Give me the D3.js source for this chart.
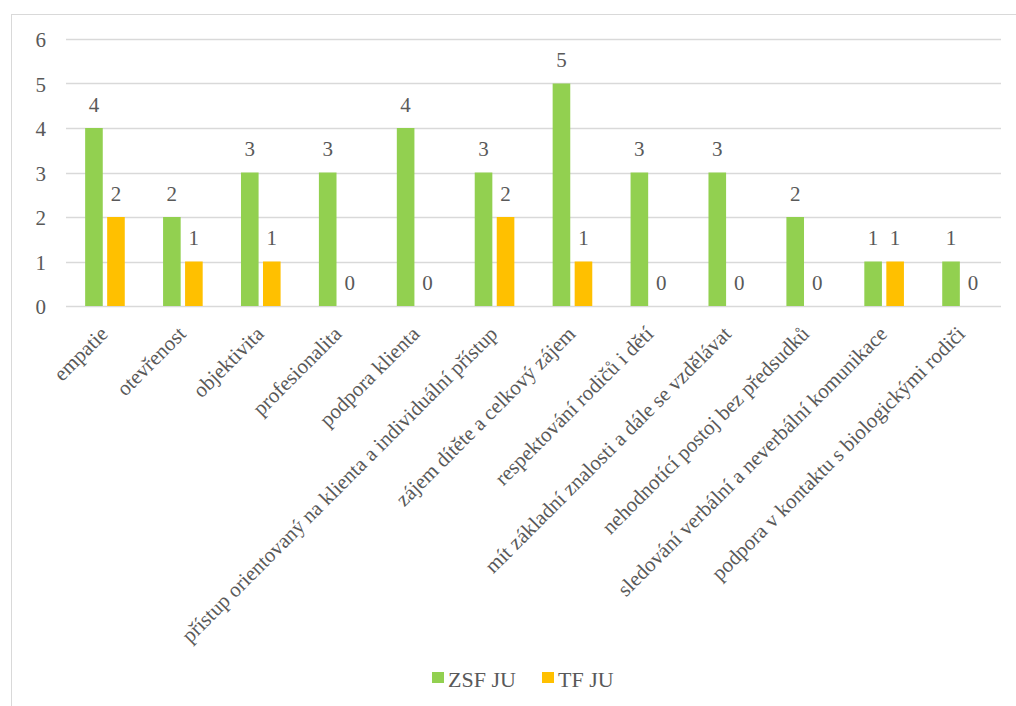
<!DOCTYPE html>
<html><head><meta charset="utf-8">
<script src="https://cdn.jsdelivr.net/npm/d3@7"></script>
<style>
html,body{margin:0;padding:0;background:#fff;}
svg{display:block;}
text{font-family:"Liberation Serif","Times New Roman",serif;fill:#595959;}
</style></head>
<body>
<svg id="chart" width="1016" height="706"></svg>
<script>
const categories = ["empatie","otevřenost","objektivita","profesionalita","podpora klienta","přístup orientovaný na klienta a individuální přístup","zájem dítěte a celkový zájem","respektování rodičů i dětí","mít základní znalosti a dále se  vzdělávat","nehodnotící postoj bez předsudků","sledování verbální a neverbální komunikace","podpora v kontaktu s biologickými rodiči"];
const seriesNames = ["ZSF JU","TF JU"];
const zsfValues = [4,2,3,3,4,3,5,3,3,2,1,1];
const tfValues = [2,1,1,0,0,2,1,0,0,0,1,0];
const yTicks = [0,1,2,3,4,5,6];
const colors = ["#92D050","#FFC000"];

const FONT = '"Liberation Serif","Times New Roman",serif';
const svg = d3.select("#chart");
const mLeft = 66, mRight = 1001, mTop = 39, mBottom = 306;

svg.append("rect").attr("x",11.5).attr("y",14.5).attr("width",1010).attr("height",700)
  .attr("fill","none").attr("stroke","#D9D9D9").attr("stroke-width",1);

const x = d3.scaleBand().domain(categories).range([mLeft,mRight]).paddingInner(0).paddingOuter(0);
const y = d3.scaleLinear().domain([0,6]).range([mBottom,mTop]);
const inner = d3.scaleBand().domain(seriesNames).range([0,x.bandwidth()]).paddingInner(0.2).paddingOuter(0.87);

// gridlines
svg.append("g").selectAll("line").data(yTicks).join("line")
  .attr("x1",mLeft).attr("x2",mRight)
  .attr("y1",d=>Math.round(y(d))+0.5).attr("y2",d=>Math.round(y(d))+0.5)
  .attr("stroke","#D9D9D9").attr("stroke-width",1.5);

// y axis labels
const yAxis = d3.axisLeft(y).tickValues(yTicks).tickFormat(d3.format("d")).tickSize(0).tickPadding(0);
const ya = svg.append("g").attr("transform",`translate(46,1)`).call(yAxis);
ya.attr("font-family",FONT).attr("font-size",21);
ya.select(".domain").remove();
ya.selectAll("text").attr("fill","#595959").attr("font-family",FONT).style("font-size","21px");

const data = categories.map((c,i)=>({c, vals:[zsfValues[i],tfValues[i]]}));
const groups = svg.append("g").selectAll("g").data(data).join("g")
  .attr("transform",d=>`translate(${x(d.c)},0)`);
groups.selectAll("rect").data(d=>d.vals.map((v,j)=>({v,s:seriesNames[j],j}))).join("rect")
  .attr("x",d=>inner(d.s)).attr("width",inner.bandwidth())
  .attr("y",d=>y(d.v)).attr("height",d=>y(0)-y(d.v))
  .attr("fill",d=>colors[d.j]);
groups.selectAll("text").data(d=>d.vals.map((v,j)=>({v,s:seriesNames[j],j}))).join("text")
  .attr("x",d=>inner(d.s)+inner.bandwidth()/2).attr("y",d=>y(d.v)-16.5)
  .attr("text-anchor","middle").attr("font-family",FONT).style("font-size","21px").text(d=>d.v);

// x labels
svg.append("g").selectAll("text").data(categories).join("text")
  .attr("transform",d=>`translate(${x(d)+x.bandwidth()/2-1},330) rotate(-45)`)
  .attr("text-anchor","end").attr("dy","0.35em").attr("font-family",FONT).style("font-size","21px")
  .text(d=>d);

// legend
const legX = [432,542];
const lg = svg.append("g").selectAll("g").data(seriesNames).join("g")
  .attr("transform",(d,i)=>`translate(${legX[i]},0)`);
lg.append("rect").attr("x",0).attr("y",672).attr("width",12).attr("height",11).attr("fill",(d,i)=>colors[i]);
lg.append("text").attr("x",16).attr("y",686.5).attr("font-family",FONT).style("font-size","22px").text(d=>d);
</script>
</body></html>
